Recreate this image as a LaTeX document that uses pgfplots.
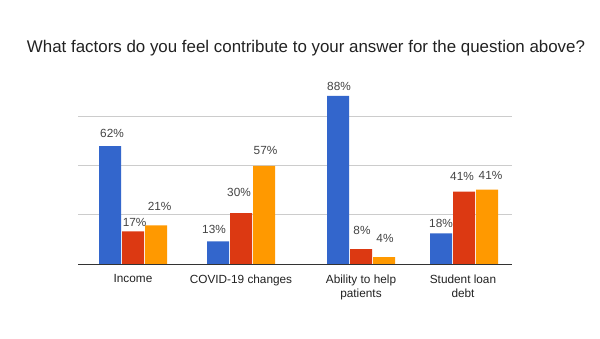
\documentclass[border=0pt]{standalone}
\usepackage{pgfplots}
\usepackage{pgfplotstable}
\pgfplotsset{compat=1.18}
\usepackage{fontspec}
\setmainfont{Liberation Sans}
\definecolor{gblue}{HTML}{3366CC}
\definecolor{gred}{HTML}{DC3912}
\definecolor{gorange}{HTML}{FF9900}
\definecolor{txt}{HTML}{222222}
\definecolor{lbl}{HTML}{444444}
\pgfplotstableread{
x y lbl dx dy
110 23.9 62\% 2 13
218 4.6 13\% -4 12
338 34.1 88\% 1 9.7
441 6.2 18\% 0 10.3
}\blueT
\pgfplotstableread{
x y lbl dx dy
133 6.6 17\% 1.6 9
241 10.3 30\% -2 20.3
361 3.0 8\% 1 18.3
464 14.7 41\% -2 15
}\redT
\pgfplotstableread{
x y lbl dx dy
156 7.85 21\% 3.6 19.3
264 19.9 57\% 1.5 15.7
384 1.4 4\% 1 19
487 15.1 41\% 3.5 14.3
}\orangeT
\begin{document}
\begin{tikzpicture}[x=1pt,y=1pt]
\path[use as bounding box, fill=white] (0,0) rectangle (600,338);
\node[text=txt, font=\fontsize{16.9}{20}\selectfont] at (306,289.5) {What factors do you feel contribute to your answer for the question above?};
\begin{axis}[
  at={(78pt,74pt)}, anchor=south west,
  scale only axis, width=434pt, height=174pt,
  xmin=78, xmax=512, ymin=0, ymax=35.3,
  axis line style={draw=none},
  ytick={10,20,30}, yticklabels={},
  ymajorgrids, grid style={draw=black!20, line width=0.8pt},
  major tick length=0pt,
  xtick={133,241,361,463},
  xticklabels={Income, COVID-19 changes, {Ability to help\\patients}, {Student loan\\debt}},
  xticklabel style={align=center, text=txt, font=\fontsize{11.8}{14}\selectfont, yshift=-7pt},
  ybar, bar width=22pt,
  point meta=explicit symbolic,
  nodes near coords,
  visualization depends on={\thisrow{dx} \as \dx},
  visualization depends on={\thisrow{dy} \as \dy},
  nodes near coords style={text=lbl, font=\fontsize{11.8}{13}\selectfont, anchor=center, xshift=\dx pt, yshift=\dy pt},
  clip=false,
]
\addplot[draw=none, fill=gblue, bar shift=0pt] table[x=x, y=y, meta=lbl] {\blueT};
\addplot[draw=none, fill=gred, bar shift=0pt] table[x=x, y=y, meta=lbl] {\redT};
\addplot[draw=none, fill=gorange, bar shift=0pt] table[x=x, y=y, meta=lbl] {\orangeT};
\draw[draw=black!80, line width=0.8pt] (axis cs:78,0) -- (axis cs:512,0);
\end{axis}
\end{tikzpicture}
\end{document}
